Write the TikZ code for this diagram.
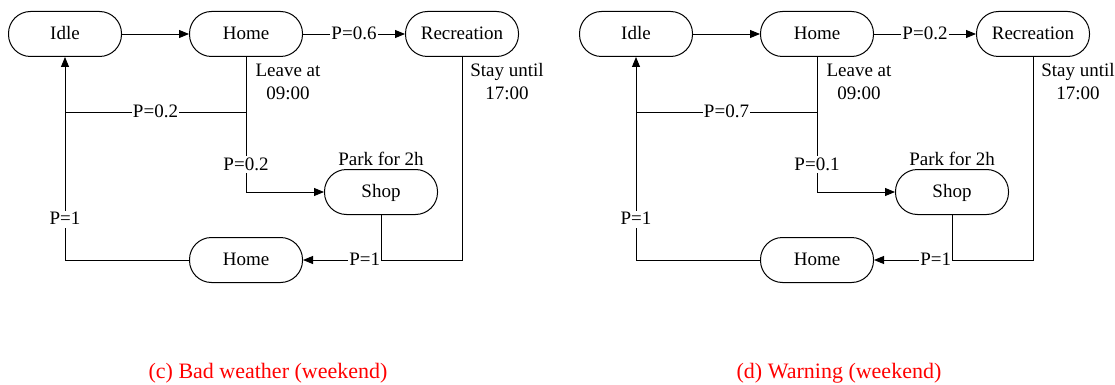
\documentclass[tikz,border=0pt]{standalone}
\usepackage{fontspec}
\setmainfont{Liberation Serif}
\usetikzlibrary{arrows.meta}
\definecolor{capred}{RGB}{255,0,0}
\tikzset{
  state/.style={draw, line width=1pt, rounded corners=22pt, minimum width=113pt,
    minimum height=45pt, text height=13pt, text depth=2pt, inner sep=0pt},
  conn/.style={line width=0.9pt},
  arr/.style={conn, -{Triangle[length=10pt,width=8pt]}},
  lbl/.style={fill=white, inner sep=1pt, text height=13pt, text depth=2pt},
  note/.style={align=center, inner sep=0pt},
  caption/.style={text=capred, font=\fontsize{22}{26}\selectfont, inner sep=0pt}
}
\newcommand{\mydiag}[6]{%
\begin{scope}[xshift=#2]
  \node[state] (#1idle) at (65,34) {Idle};
  \node[state] (#1homeT) at (246,34) {Home};
  \node[state] (#1rec) at (462,34) {Recreation};
  \node[state] (#1shop) at (381,192) {Shop};
  \node[state] (#1homeB) at (246,260) {Home};
  \coordinate (#1j1) at (246,112);
  \coordinate (#1j2) at (65,112);
  \node[note] (#1leave) at (288,82) {Leave at\\09:00};
  \node[note] (#1stay) at (507,82) {Stay until\\17:00};
  \node[note] (#1park) at (381,159) {Park for 2h};
  \node[caption] (#1cap) at (268,373) {#6};
  \draw[arr] (#1idle) -- (#1homeT);
  \draw[arr] (#1homeT) -- node[lbl]{#3} (#1rec);
  \draw[conn] (#1shop.south) -- (#1shop.south |- #1homeB);
  \draw[arr] (#1homeT.south) |- node[lbl, pos=0.4]{#5} (#1shop.west);
  \draw[conn] (#1j1) -- node[lbl]{#4} (#1j2);
  \draw[arr] (#1homeB.west) -| node[lbl, pos=0.6]{P=1} (#1idle.south);
  \draw[arr] (#1rec.south) |- node[lbl, pos=0.806]{P=1} (#1homeB.east);
\end{scope}}
\begin{document}
\begin{tikzpicture}[x=1pt, y=-1pt, font=\fontsize{19}{23}\selectfont]
\useasboundingbox (0,0) rectangle (1115,385);
\mydiag{L}{0pt}{P=0.6}{P=0.2}{P=0.2}{(c) Bad weather (weekend)}
\mydiag{R}{571pt}{P=0.2}{P=0.7}{P=0.1}{(d) Warning (weekend)}
\end{tikzpicture}
\end{document}
